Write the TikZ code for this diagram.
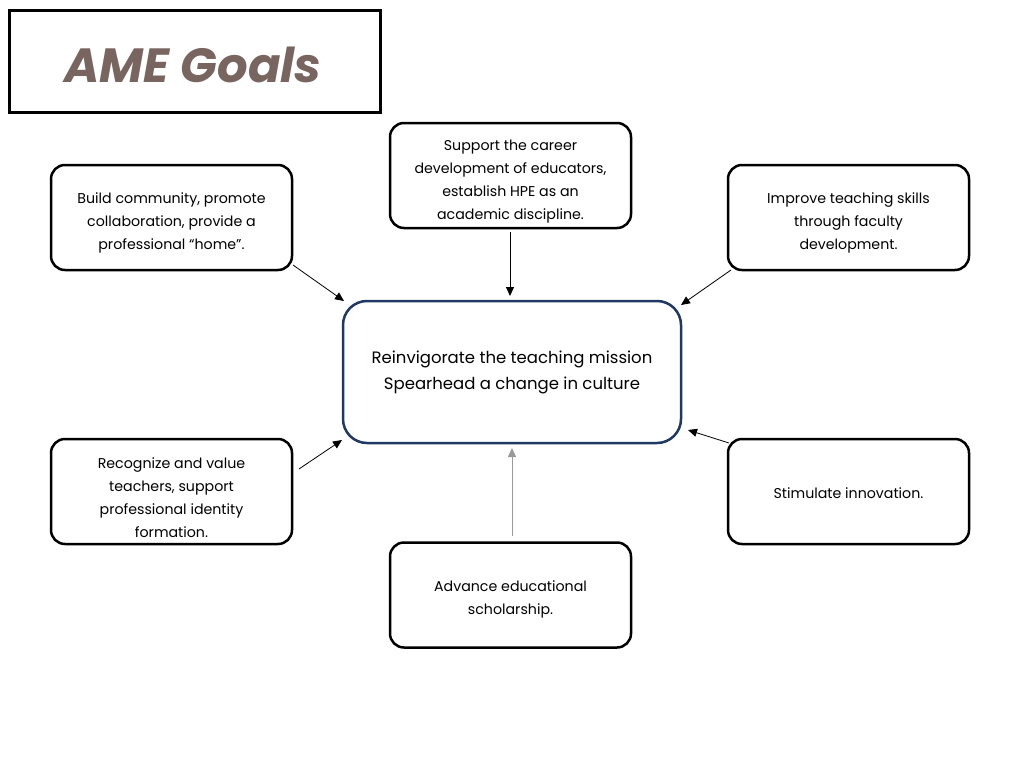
\documentclass[tikz,border=0pt]{standalone}
\usepackage{fontspec}
\setmainfont{Poppins}
\usetikzlibrary{arrows.meta}
\definecolor{navy}{RGB}{31,56,100}
\definecolor{titlebrown}{RGB}{121,101,95}
\begin{document}
\begin{tikzpicture}[x=1pt,y=-1pt,
  goal/.style={draw=black,line width=2.5pt,rounded corners=14pt,minimum width=241pt,minimum height=105pt,inner sep=0pt},
  goaltext/.style={align=center,font=\fontsize{14.2}{23}\selectfont,inner sep=0pt},
  link/.style={line width=0.8pt,-{Triangle[length=9pt,width=8pt]}}]
\useasboundingbox (0,0) rectangle (1024,768);
\node[draw,line width=3pt,minimum width=371pt,minimum height=101pt,inner sep=0pt] (title) at (194.5,61.5) {};
\node[text=titlebrown,font=\fontsize{48}{54}\selectfont\bfseries\itshape] (titletext) at (193,65) {AME Goals};

\node[draw=navy,line width=2.5pt,rounded corners=24pt,minimum width=338pt,minimum height=142pt,align=center,font=\fontsize{16.5}{26}\selectfont,inner sep=0pt] (center) at (512,372) {Reinvigorate the teaching mission\\Spearhead a change in culture};

\node[goal] (b1) at (171.5,217.5) {};
\node[goal] (b2) at (510.5,175.5) {};
\node[goal] (b3) at (848.5,217.5) {};
\node[goal] (b4) at (171.5,491.5) {};
\node[goal] (b5) at (848.5,491.5) {};
\node[goal] (b6) at (510.5,595) {};

\node[goaltext] (t1) at (171.5,222.5) {Build community, promote\\collaboration, provide a\\professional “home”.};
\node[goaltext] (t2) at (510.5,181.5) {Support the career\\development of educators,\\establish HPE as an\\academic discipline.};
\node[goaltext] (t3) at (848.5,222.5) {Improve teaching skills\\through faculty\\development.};
\node[goaltext] (t4) at (171.5,497.5) {Recognize and value\\teachers, support\\professional identity\\formation.};
\node[goaltext] (t5) at (848.5,493.5) {Stimulate innovation.};
\node[goaltext] (t6) at (510.5,599) {Advance educational\\scholarship.};

\coordinate (s1) at (293,265); \coordinate (e1) at (344,301);
\coordinate (s2) at (510,232); \coordinate (e2) at (510,296);
\coordinate (s3) at (731,270); \coordinate (e3) at (681,305);
\coordinate (s4) at (299,469); \coordinate (e4) at (342,440);
\coordinate (s5) at (729,443); \coordinate (e5) at (688,430);
\coordinate (s6) at (512,536); \coordinate (e6) at (512,448);

\draw[link] (s1) -- (e1);
\draw[link] (s2) -- (e2);
\draw[link] (s3) -- (e3);
\draw[link] (s4) -- (e4);
\draw[link] (s5) -- (e5);
\draw[link,draw=black!40] (s6) -- (e6);
\end{tikzpicture}
\end{document}
